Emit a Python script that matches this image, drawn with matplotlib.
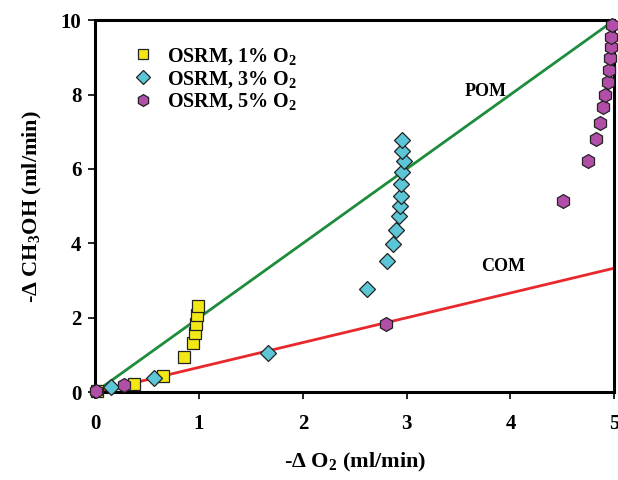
"""Methanol vs oxygen conversion, OSRM runs."""

import matplotlib

matplotlib.use("Agg")
import matplotlib.pyplot as plt
import numpy as np

# data
o2_1 = [0.02, 0.37, 0.65, 0.86, 0.94, 0.96, 0.97, 0.98, 0.99]
meoh_1 = [0.03, 0.21, 0.43, 0.95, 1.32, 1.60, 1.84, 2.08, 2.32]

o2_3 = [0.15, 0.57, 1.66, 2.62, 2.81, 2.87, 2.90, 2.93, 2.94, 2.95, 2.95, 2.96, 2.97, 2.96, 2.96]
meoh_3 = [0.14, 0.39, 1.06, 2.78, 3.52, 3.99, 4.35, 4.74, 5.01, 5.28, 5.59, 5.93, 6.22, 6.49, 6.78]

o2_5 = [0.01, 0.28, 2.80, 4.51, 4.75, 4.82, 4.86, 4.89, 4.91, 4.94, 4.95, 4.96, 4.97, 4.97, 4.98]
meoh_5 = [0.02, 0.19, 1.84, 5.14, 6.22, 6.81, 7.24, 7.67, 7.98, 8.34, 8.66, 8.97, 9.29, 9.56, 9.87]

line_x = [0, 5]
pom_slope = 2.0
com_slope = 2.0 / 3.0

plt.rcParams["font.family"] = "Liberation Serif"
plt.rcParams["font.weight"] = "bold"
plt.rcParams["mathtext.fontset"] = "custom"
plt.rcParams["mathtext.rm"] = "Liberation Serif:bold"
plt.rcParams["mathtext.default"] = "rm"

fig = plt.figure(figsize=(6.18, 4.80), dpi=100)
ax = fig.add_axes([0.154, 0.183, 0.840, 0.775])

x = np.asarray(line_x, dtype=float)
ax.plot(x, pom_slope * x, color="#1d8c3c", linewidth=2.0, zorder=2)
ax.plot(x, com_slope * x, color="#e8282c", linewidth=2.0, zorder=2)

ax.plot(o2_1, meoh_1, linestyle="none", marker="s", markersize=9,
        markerfacecolor="#f3e816", markeredgecolor="#222222", markeredgewidth=0.9,
        label="OSRM, 1% O$_2$", zorder=3, clip_on=False)
ax.plot(o2_3, meoh_3, linestyle="none", marker="D", markersize=8.5,
        markerfacecolor="#5cc6d6", markeredgecolor="#222222", markeredgewidth=0.9,
        label="OSRM, 3% O$_2$", zorder=3, clip_on=False)
ax.plot(o2_5, meoh_5, linestyle="none", marker="h", markersize=10,
        markerfacecolor="#b04ea8", markeredgecolor="#222222", markeredgewidth=0.9,
        label="OSRM, 5% O$_2$", zorder=4, clip_on=False)

ax.text(3.56, 7.95, "POM", fontsize=13, fontweight="bold")
ax.text(3.72, 3.25, "COM", fontsize=13, fontweight="bold")

ax.set_xlim(0, 5)
ax.set_ylim(0, 10)
ax.set_xticks(range(0, 6))
ax.set_yticks(range(0, 11, 2))
ax.tick_params(labelsize=15, width=1.2, length=5, direction="out")
ax.tick_params(axis="x", pad=11)
ax.tick_params(axis="y", pad=5)
for label in ax.get_xticklabels() + ax.get_yticklabels():
    label.set_fontweight("bold")
for spine in ax.spines.values():
    spine.set_linewidth(2.2)

ax.set_xlabel("-\u0394 O$_2$ (ml/min)", fontsize=16, fontweight="bold", labelpad=12)
ax.set_ylabel("-\u0394 CH$_3$OH (ml/min)", fontsize=16, fontweight="bold", labelpad=12)

ax.legend(loc="upper left", frameon=False, fontsize=14.5, handletextpad=0.6,
          handlelength=1.2, markerscale=0.85, borderaxespad=0.6,
          labelspacing=0.1, bbox_to_anchor=(0.03, 0.985))

fig.savefig("out.png", dpi=100)
